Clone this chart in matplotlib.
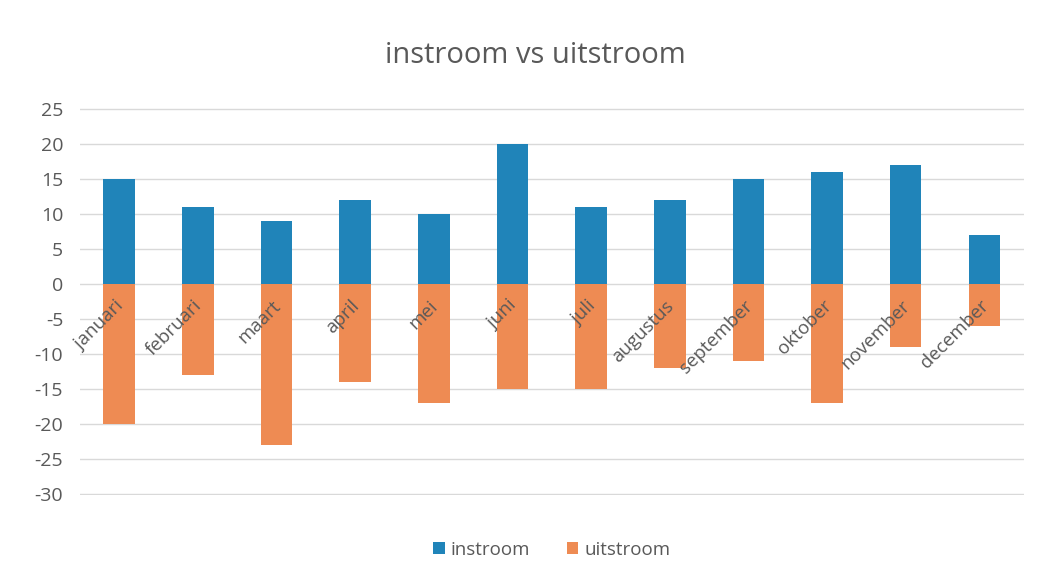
import matplotlib.pyplot as plt
import numpy as np

plt.rcParams['font.family'] = ['Open Sans', 'DejaVu Sans']
plt.rcParams['axes.unicode_minus'] = False

maanden = ['januari', 'februari', 'maart', 'april', 'mei', 'juni',
           'juli', 'augustus', 'september', 'oktober', 'november', 'december']
instroom = [15, 11, 9, 12, 10, 20, 11, 12, 15, 16, 17, 7]
uitstroom = [-20, -13, -23, -14, -17, -15, -15, -12, -11, -17, -9, -6]
yticks = [25, 20, 15, 10, 5, 0, -5, -10, -15, -20, -25, -30]

blauw = '#2084b9'
oranje = '#ee8b53'
tekst = '#595959'

fig = plt.figure(figsize=(10.5, 5.81), dpi=100)
ax = fig.add_axes([0.076, 0.148, 0.899, 0.666])

x = np.arange(len(maanden))
ax.bar(x, instroom, width=0.4, color=blauw, label='instroom', zorder=2)
ax.bar(x, uitstroom, width=0.4, color=oranje, label='uitstroom', zorder=2)

ax.set_xlim(-0.5, len(maanden) - 0.5)
ax.set_ylim(-30.15, 25.15)
ax.set_yticks(yticks)
ax.tick_params(axis='y', length=0, labelsize=14, labelcolor=tekst, pad=12)
ax.set_xticks([])
ax.grid(axis='y', color='#d9d9d9', linewidth=1, zorder=0)
for s in ax.spines.values():
    s.set_visible(False)

# maandlabels schuin, vlak onder de nullijn
for i, m in enumerate(maanden):
    ax.text(i + 0.1, -1.8, m, rotation=45, ha='right', va='top',
            fontsize=13.5, color=tekst, zorder=3)

fig.text(0.51, 0.905, 'instroom vs uitstroom', ha='center', va='center',
         fontsize=21, color=tekst)

ax.legend(loc='upper center', bbox_to_anchor=(0.5, -0.075), ncol=2, frameon=False,
          fontsize=13.5, labelcolor=tekst, handlelength=0.6, handleheight=0.6,
          handletextpad=0.3, columnspacing=2.0)

fig.savefig('out.png', dpi=100)
